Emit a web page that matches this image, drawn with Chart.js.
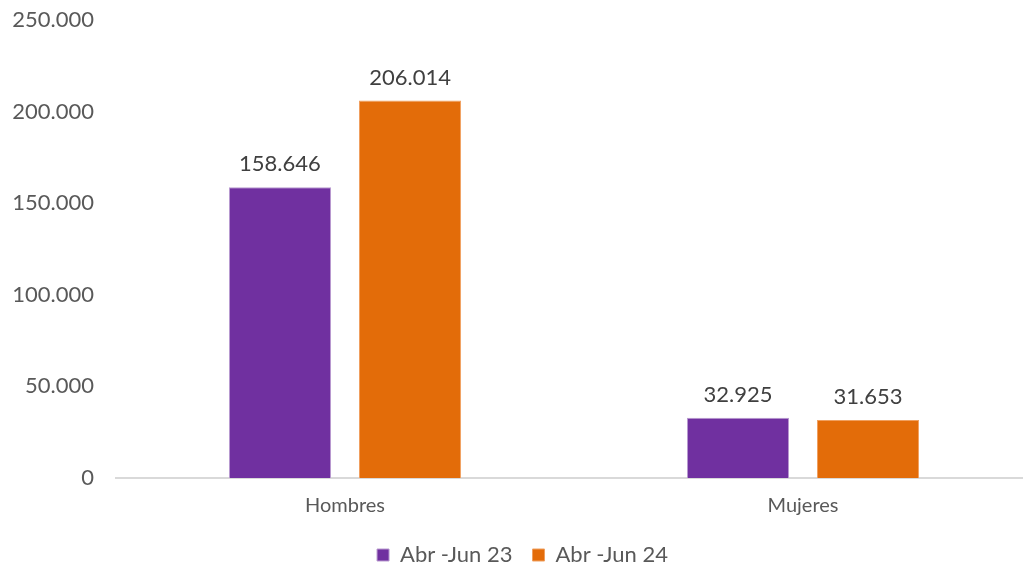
<!DOCTYPE html>
<html>
<head>
<meta charset="utf-8">
<script src="https://cdn.jsdelivr.net/npm/chart.js@4/dist/chart.umd.min.js"></script>
<style>
    html, body { margin: 0; padding: 0; background: #fff; }
    #wrap { width: 1023px; height: 567px; }
</style>
</head>
<body>
<div id="wrap"><canvas id="chart" width="1023" height="567"></canvas></div>
<script>
// Data
const categories = ['Hombres', 'Mujeres'];
const seriesNames = ['Abr -Jun 23', 'Abr -Jun 24'];
const abrJun23 = [158646, 32925];
const abrJun24 = [206014, 31653];
const yTicks = [0, 50000, 100000, 150000, 200000, 250000];

const textColor = '#595959';

// thousands separator with a dot
function fmt(v) {
    return String(Math.round(v)).replace(/\B(?=(\d{3})+(?!\d))/g, '.');
}

// Value labels above bars
const valueLabels = {
    id: 'valueLabels',
    afterDatasetsDraw(chart) {
        const ctx = chart.ctx;
        ctx.save();
        ctx.font = '22px Lato, sans-serif';
        ctx.fillStyle = '#404040';
        ctx.textAlign = 'center';
        ctx.textBaseline = 'alphabetic';
        chart.data.datasets.forEach((ds, i) => {
            const meta = chart.getDatasetMeta(i);
            meta.data.forEach((bar, j) => {
                ctx.fillText(fmt(ds.data[j]), bar.x, bar.y - 16);
            });
        });
        ctx.restore();
    }
};

// the original plot area runs a little past the right edge of the image
const widenX = {
    id: 'widenX',
    afterLayout(chart) {
        const x = chart.scales.x;
        x.right = 1032;
        x.width = x.right - x.left;
        x.configure();
    }
};

const chart = new Chart(document.getElementById('chart'), {
    type: 'bar',
    data: {
        labels: categories,
        datasets: [{
            label: seriesNames[0],
            data: abrJun23,
            backgroundColor: '#7030A0',
            borderColor: '#b99bd0',
            borderWidth: 1
        }, {
            label: seriesNames[1],
            data: abrJun24,
            backgroundColor: '#E36C09',
            borderColor: '#f0a060',
            borderWidth: 1
        }]
    },
    options: {
        responsive: false,
        animation: false,
        categoryPercentage: 0.568,
        barPercentage: 0.785,
        layout: { padding: { top: 20, right: 0, bottom: -9, left: 0 } },
        plugins: {
            legend: {
                position: 'bottom',
                labels: {
                    font: { family: 'Lato, sans-serif', size: 22 },
                    color: textColor,
                    boxWidth: 12,
                    boxHeight: 12,
                    padding: 20
                }
            },
            tooltip: { enabled: false }
        },
        scales: {
            x: {
                grid: { display: false },
                border: { display: true, color: '#d9d9d9', width: 2 },
                ticks: {
                    font: { family: 'Lato, sans-serif', size: 20 },
                    color: textColor,
                    padding: 8
                },
                afterFit(axis) {
                    axis.height -= 2;
                }
            },
            y: {
                min: 0,
                max: 250000,
                afterBuildTicks(axis) {
                    axis.ticks = yTicks.map(v => ({ value: v }));
                },
                afterFit(axis) {
                    axis.width = 116;
                    axis.paddingTop = 0;
                    axis.paddingBottom = 0;
                },
                grid: { display: false },
                border: { display: false },
                ticks: {
                    font: { family: 'Lato, sans-serif', size: 22 },
                    color: textColor,
                    padding: 14,
                    callback: v => fmt(v)
                }
            }
        }
    },
    plugins: [valueLabels, widenX]
});

// legend sits a bit right of centre in the original
const legendDraw = chart.legend.draw;
chart.legend.draw = function () {
    chart.ctx.save();
    chart.ctx.translate(11, 0);
    legendDraw.apply(this, arguments);
    chart.ctx.restore();
};
chart.draw();
</script>
</body>
</html>
